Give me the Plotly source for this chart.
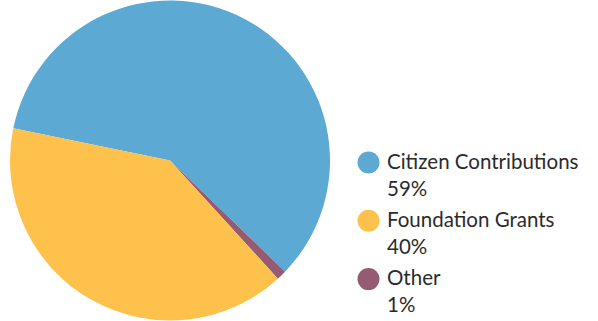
import plotly.graph_objects as go

labels = ["Citizen Contributions", "Foundation Grants", "Other"]
values = [59, 40, 1]
pct_labels = ["59%", "40%", "1%"]
colors = ["#5ca9d4", "#fec14c", "#955b73"]

# Pie slice order clockwise: Citizen, Other, Foundation
pie_order = [0, 2, 1]

W, H = 598, 321
fig = go.Figure()
fig.add_trace(go.Pie(
    labels=[labels[i] for i in pie_order],
    values=[values[i] for i in pie_order],
    marker=dict(colors=[colors[i] for i in pie_order], line=dict(width=0)),
    sort=False,
    direction="clockwise",
    rotation=281.6,
    textinfo="none",
    hoverinfo="label+percent",
    showlegend=False,
    domain=dict(x=[10 / W, 330 / W], y=[0, 1]),
))

# Custom legend: circle markers + two-line labels
leg_x = 368.5
leg_y0 = 162.5
leg_step = 58.3
fig.add_trace(go.Scatter(
    x=[leg_x] * len(labels),
    y=[leg_y0 + i * leg_step for i in range(len(labels))],
    mode="markers",
    marker=dict(size=22, color=colors, line=dict(width=0)),
    hoverinfo="skip",
    showlegend=False,
))
annotations = []
for i, (lab, pct) in enumerate(zip(labels, pct_labels)):
    annotations.append(dict(
        x=385, y=leg_y0 + i * leg_step - 16, xref="x", yref="y",
        text=f"{lab}<br>{pct}", showarrow=False,
        xanchor="left", yanchor="top", align="left",
        font=dict(family="Lato", size=20.5, color="#2b2b2b"),
    ))

fig.update_layout(
    width=W, height=H,
    margin=dict(l=0, r=0, t=0, b=0),
    paper_bgcolor="white", plot_bgcolor="white",
    xaxis=dict(range=[0, W], visible=False, fixedrange=True),
    yaxis=dict(range=[H, 0], visible=False, fixedrange=True),
    annotations=annotations,
)
fig.write_html("out.html")
